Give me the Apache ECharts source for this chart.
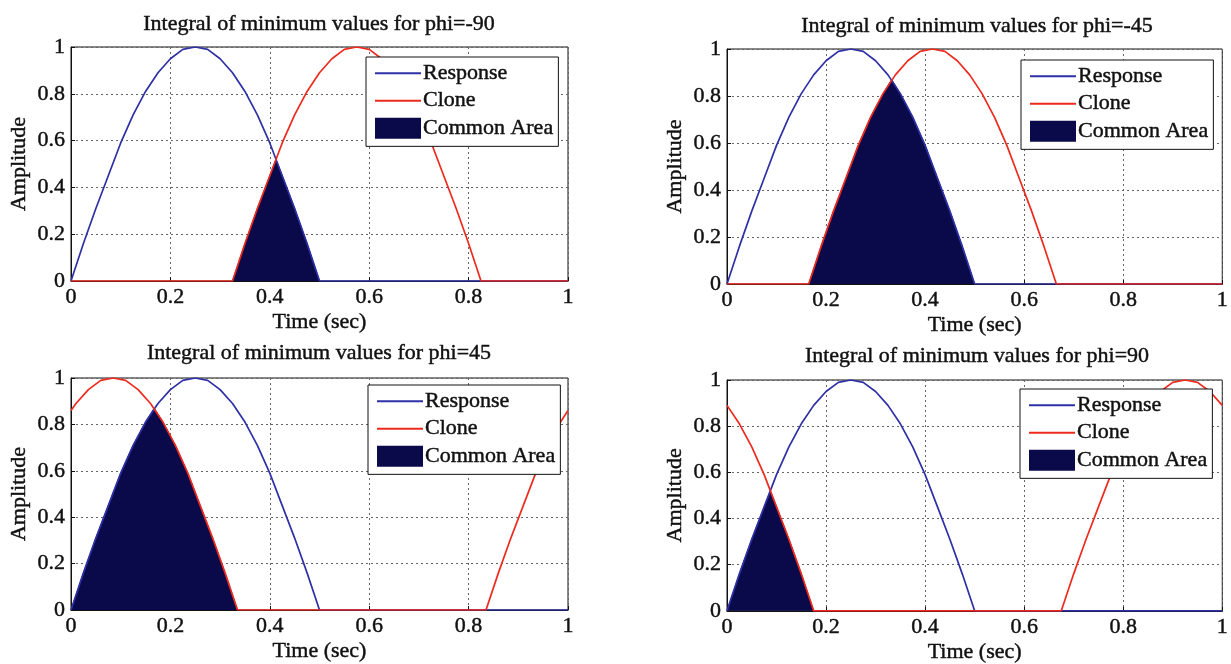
<!DOCTYPE html>
<html>
<head>
<meta charset="utf-8">
<title>Integral of minimum values</title>
<script src="https://cdn.jsdelivr.net/npm/echarts@6/dist/echarts.min.js"></script>
<style>
  html, body { margin: 0; padding: 0; background: #ffffff; }
  #chart { width: 1231px; height: 664px; }
</style>
</head>
<body>
<div id="chart"></div>
<script>
// ---- data -------------------------------------------------------------
const panelTitles = [
  'Integral of minimum values for phi=-90',
  'Integral of minimum values for phi=-45',
  'Integral of minimum values for phi=45',
  'Integral of minimum values for phi=90'
];
const timeTicks = [0, 0.2, 0.4, 0.6, 0.8, 1];
const ampTicks = [0, 0.2, 0.4, 0.6, 0.8, 1];
const legendNames = ['Response', 'Clone', 'Common Area'];

// Response (same in every panel)
const responseTime = [0, 0.025, 0.05, 0.075, 0.1, 0.125, 0.15, 0.175, 0.2, 0.225, 0.25, 0.275, 0.3, 0.325, 0.35, 0.375, 0.4, 0.425, 0.45, 0.475, 0.5, 1];
const responseAmp  = [0, 0.16, 0.31, 0.45, 0.59, 0.71, 0.81, 0.89, 0.95, 0.99, 1.00, 0.99, 0.95, 0.89, 0.81, 0.71, 0.59, 0.45, 0.31, 0.16, 0, 0];

// phi = -90
const cloneTimeM90 = [0, 0.325, 0.35, 0.375, 0.4, 0.425, 0.45, 0.475, 0.5, 0.525, 0.55, 0.575, 0.6, 0.625, 0.65, 0.675, 0.7, 0.725, 0.75, 0.775, 0.8, 0.825, 1];
const cloneAmpM90  = [0, 0, 0.16, 0.31, 0.45, 0.59, 0.71, 0.81, 0.89, 0.95, 0.99, 1.00, 0.99, 0.95, 0.89, 0.81, 0.71, 0.59, 0.45, 0.31, 0.16, 0, 0];
const commonTimeM90 = [0.325, 0.35, 0.375, 0.4, 0.4125, 0.425, 0.45, 0.475, 0.5];
const commonAmpM90  = [0, 0.16, 0.31, 0.45, 0.52, 0.45, 0.31, 0.16, 0];

// phi = -45
const cloneTimeM45 = [0, 0.165, 0.19, 0.215, 0.24, 0.265, 0.29, 0.315, 0.34, 0.365, 0.39, 0.415, 0.44, 0.465, 0.49, 0.515, 0.54, 0.565, 0.59, 0.615, 0.64, 0.665, 1];
const cloneAmpM45  = [0, 0, 0.16, 0.31, 0.45, 0.59, 0.71, 0.81, 0.89, 0.95, 0.99, 1.00, 0.99, 0.95, 0.89, 0.81, 0.71, 0.59, 0.45, 0.31, 0.16, 0, 0];
const commonTimeM45 = [0.165, 0.19, 0.215, 0.24, 0.265, 0.29, 0.315, 0.3325, 0.35, 0.375, 0.4, 0.425, 0.45, 0.475, 0.5];
const commonAmpM45  = [0, 0.16, 0.31, 0.45, 0.59, 0.71, 0.81, 0.87, 0.81, 0.71, 0.59, 0.45, 0.31, 0.16, 0];

// phi = 45
const cloneTimeP45 = [0, 0.01, 0.035, 0.06, 0.085, 0.11, 0.135, 0.16, 0.185, 0.21, 0.235, 0.26, 0.285, 0.31, 0.335, 0.835, 0.86, 0.885, 0.91, 0.935, 0.96, 0.985, 1];
const cloneAmpP45  = [0.86, 0.89, 0.95, 0.99, 1.00, 0.99, 0.95, 0.89, 0.81, 0.71, 0.59, 0.45, 0.31, 0.16, 0, 0, 0.16, 0.31, 0.45, 0.59, 0.71, 0.81, 0.86];
const commonTimeP45 = [0, 0.025, 0.05, 0.075, 0.1, 0.125, 0.15, 0.1675, 0.185, 0.21, 0.235, 0.26, 0.285, 0.31, 0.335];
const commonAmpP45  = [0, 0.16, 0.31, 0.45, 0.59, 0.71, 0.81, 0.87, 0.81, 0.71, 0.59, 0.45, 0.31, 0.16, 0];

// phi = 90
const cloneTimeP90 = [0, 0.025, 0.05, 0.075, 0.1, 0.125, 0.15, 0.175, 0.675, 0.7, 0.725, 0.75, 0.775, 0.8, 0.825, 0.85, 0.875, 0.9, 0.925, 0.95, 0.975, 1];
const cloneAmpP90  = [0.89, 0.81, 0.71, 0.59, 0.45, 0.31, 0.16, 0, 0, 0.16, 0.31, 0.45, 0.59, 0.71, 0.81, 0.89, 0.95, 0.99, 1.00, 0.99, 0.95, 0.89];
const commonTimeP90 = [0, 0.025, 0.05, 0.075, 0.0875, 0.1, 0.125, 0.15, 0.175];
const commonAmpP90  = [0, 0.16, 0.31, 0.45, 0.52, 0.45, 0.31, 0.16, 0];

// ---- layout & style ---------------------------------------------------
const FONT = 'Liberation Serif, Times New Roman, serif';
const FS = 22;
const INK = '#111';
const STROKE_W = 0.45;   // slight stroke so the serif text reads heavier
const BLUE = '#2e30a6';
const RED = '#ee2a1e';
const NAVY = '#0a0a4a';

const panels = [
  { grid: { left: 71,  top: 47,  width: 497, height: 234 }, legend: { left: 366,  top: 57 },  title: [319, 24],
    clone: [cloneTimeM90, cloneAmpM90], common: [commonTimeM90, commonAmpM90] },
  { grid: { left: 727, top: 49,  width: 500, height: 235 }, legend: { left: 1021, top: 60 },  title: [977, 26],
    clone: [cloneTimeM45, cloneAmpM45], common: [commonTimeM45, commonAmpM45] },
  { grid: { left: 71,  top: 378, width: 497, height: 232 }, legend: { left: 368,  top: 385 }, title: [319, 353],
    clone: [cloneTimeP45, cloneAmpP45], common: [commonTimeP45, commonAmpP45] },
  { grid: { left: 727, top: 380, width: 500, height: 233 }, legend: { left: 1020, top: 389 }, title: [977, 356],
    clone: [cloneTimeP90, cloneAmpP90], common: [commonTimeP90, commonAmpP90] }
];

const zip = (xs, ys) => xs.map((x, i) => [x, ys[i]]);
const textStyle = {
  fontFamily: FONT, fontSize: FS, fontWeight: 'normal', color: INK,
  textBorderColor: INK, textBorderWidth: STROKE_W
};

const option = {
  animation: false,
  backgroundColor: '#ffffff',
  grid: [], xAxis: [], yAxis: [], series: [], legend: [], graphic: []
};

panels.forEach((p, i) => {
  option.grid.push(Object.assign({ show: true, borderColor: '#111', borderWidth: 1, backgroundColor: '#fff' }, p.grid));

  option.xAxis.push({
    type: 'value', gridIndex: i,
    min: timeTicks[0], max: timeTicks[timeTicks.length - 1], interval: timeTicks[1] - timeTicks[0],
    name: 'Time (sec)', nameLocation: 'middle', nameGap: 30,
    nameTextStyle: textStyle,
    axisLine: { lineStyle: { color: '#111', width: 1 } },
    axisTick: { inside: true, length: 4, lineStyle: { color: '#111' } },
    axisLabel: Object.assign({ margin: 5 }, textStyle),
    splitLine: { show: true, lineStyle: { type: [2, 3], color: '#666', width: 1 } }
  });

  option.yAxis.push({
    type: 'value', gridIndex: i,
    min: ampTicks[0], max: ampTicks[ampTicks.length - 1], interval: ampTicks[1] - ampTicks[0],
    name: 'Amplitude', nameLocation: 'middle', nameGap: 41,
    nameTextStyle: textStyle,
    axisLine: { show: true, lineStyle: { color: '#111', width: 1 } },
    axisTick: { show: true, inside: true, length: 4, lineStyle: { color: '#111' } },
    axisLabel: Object.assign({ margin: 6 }, textStyle),
    splitLine: { show: true, lineStyle: { type: [2, 3], color: '#666', width: 1 } }
  });

  option.series.push({
    name: 'Common Area', type: 'line', xAxisIndex: i, yAxisIndex: i,
    data: zip(p.common[0], p.common[1]),
    symbol: 'none', silent: true,
    lineStyle: { color: NAVY, width: 1 },
    itemStyle: { color: NAVY },
    areaStyle: { color: NAVY, opacity: 1 }
  });
  option.series.push({
    name: 'Response', type: 'line', xAxisIndex: i, yAxisIndex: i,
    data: zip(responseTime, responseAmp),
    symbol: 'none', silent: true,
    lineStyle: { color: BLUE, width: 1.7 },
    itemStyle: { color: BLUE }
  });
  option.series.push({
    name: 'Clone', type: 'line', xAxisIndex: i, yAxisIndex: i,
    data: zip(p.clone[0], p.clone[1]),
    symbol: 'none', silent: true,
    lineStyle: { color: RED, width: 1.7 },
    itemStyle: { color: RED }
  });

  option.legend.push({
    left: p.legend.left, top: p.legend.top,
    orient: 'vertical',
    data: [
      { name: legendNames[0], itemStyle: { opacity: 0 } },
      { name: legendNames[1], itemStyle: { opacity: 0 } },
      { name: legendNames[2], icon: 'rect', itemStyle: { opacity: 1 } }
    ],
    itemWidth: 46, itemHeight: 21, itemGap: 5,
    padding: [5, 5, 7, 8],
    backgroundColor: '#fff',
    borderColor: '#111', borderWidth: 1, borderRadius: 0,
    textStyle: Object.assign({}, textStyle, { padding: [0, 0, 0, -3], lineHeight: 21 }),
    selectedMode: false
  });

  option.graphic.push({
    type: 'text', x: p.title[0], y: p.title[1],
    style: {
      text: panelTitles[i], x: 0, y: 0, align: 'center', verticalAlign: 'middle',
      font: FS + 'px ' + FONT, fill: INK, stroke: INK, lineWidth: STROKE_W
    }
  });
});

const chart = echarts.init(document.getElementById('chart'), null, { renderer: 'canvas' });
chart.setOption(option);
</script>
</body>
</html>
